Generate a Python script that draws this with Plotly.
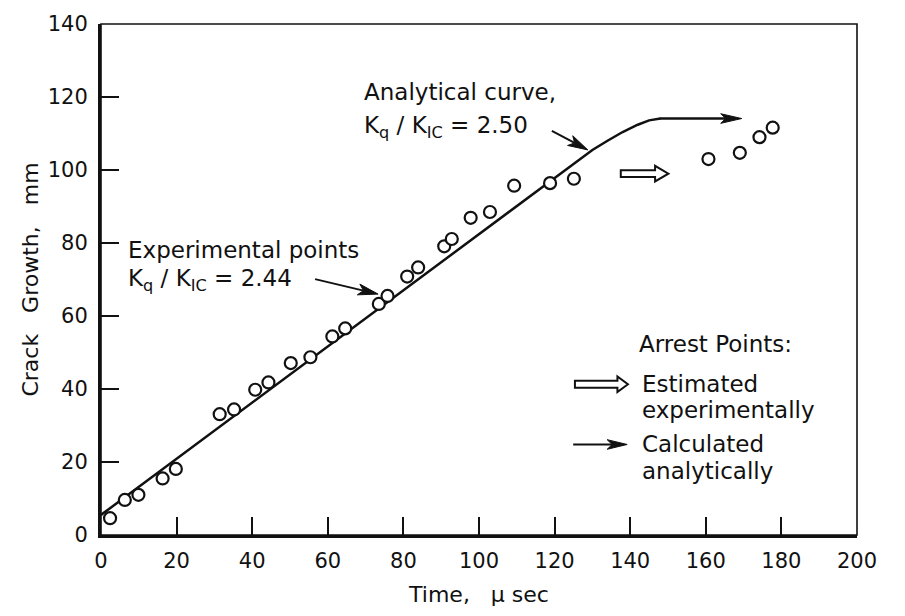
import math
import plotly.graph_objects as go

# ---- data ----
exp_time = [2.4, 6.3, 9.9, 16.3, 19.8, 31.4, 35.2, 40.8, 44.3, 50.2, 55.4, 61.2, 64.6,
            73.5, 75.8, 81.0, 83.9, 90.8, 92.8, 97.8, 102.9, 109.3, 118.8, 125.1,
            160.7, 169.0, 174.2, 177.7]
exp_growth = [4.6, 9.6, 11.0, 15.5, 18.1, 33.1, 34.4, 39.8, 41.8, 47.1, 48.7, 54.4, 56.6,
              63.3, 65.5, 70.8, 73.3, 79.1, 81.1, 86.9, 88.5, 95.7, 96.4, 97.6,
              103.0, 104.7, 109.0, 111.6]

curve_time = [0, 20, 40, 60, 80, 100, 120, 126, 130, 134, 138, 142, 145, 148]
curve_growth = [5.5, 20.9, 36.3, 51.7, 67.1, 82.5, 97.9, 102.5, 105.5, 108.0, 110.4,
                112.4, 113.6, 114.1]

x_ticks = [0, 20, 40, 60, 80, 100, 120, 140, 160, 180, 200]
y_ticks = [0, 20, 40, 60, 80, 100, 120, 140]

FONT = "DejaVu Sans"
BLACK = "#111111"

fig = go.Figure()

fig.add_trace(go.Scatter(
    x=curve_time, y=curve_growth, mode="lines",
    line=dict(color=BLACK, width=2.5), showlegend=False, hoverinfo="skip"))

fig.add_trace(go.Scatter(
    x=exp_time, y=exp_growth, mode="markers",
    marker=dict(symbol="circle", size=12, color="white",
                line=dict(color=BLACK, width=2.2)),
    showlegend=False, cliponaxis=False))

annotations = []


def text_ann(x, y, text, size=23):
    annotations.append(dict(x=x, y=y, xref="x", yref="y", text=text, showarrow=False,
                            xanchor="left", yanchor="middle", align="left",
                            font=dict(family=FONT, size=size, color=BLACK)))


kq = "K<sub>q</sub> / K<sub>IC</sub> = "
text_ann(69.0, 121.3, "Analytical curve,")
text_ann(69.0, 111.9, kq + "2.50")
text_ann(6.6, 78.0, "Experimental points")
text_ann(6.6, 70.0, kq + "2.44")
text_ann(141.8, 52.4, "Arrest Points:")
text_ann(142.6, 41.4, "Estimated")
text_ann(142.6, 34.2, "experimentally")
text_ann(142.6, 24.8, "Calculated")
text_ann(142.6, 17.4, "analytically")

shapes = []


def solid_arrow(tx, ty, dx, dy, width=2.0, L=20.0, w=5.5, notch=5.0):
    """Arrow whose tip is at data (tx, ty); tail at pixel offset (dx, dy), y up."""
    n = math.hypot(dx, dy)
    ux, uy = -dx / n, -dy / n          # direction tail -> tip
    px, py = -uy, ux                    # perpendicular
    bx, by = -L * ux, -L * uy
    nx, ny = -(L - notch) * ux, -(L - notch) * uy
    shaft = f"M {dx:.2f},{dy:.2f} L {nx:.2f},{ny:.2f}"
    head = (f"M 0,0 L {bx + w * px:.2f},{by + w * py:.2f} L {nx:.2f},{ny:.2f} "
            f"L {bx - w * px:.2f},{by - w * py:.2f} Z")
    shapes.append(dict(type="path", path=shaft, xref="x", yref="y",
                       xsizemode="pixel", ysizemode="pixel", xanchor=tx, yanchor=ty,
                       line=dict(color=BLACK, width=width)))
    shapes.append(dict(type="path", path=head, xref="x", yref="y",
                       xsizemode="pixel", ysizemode="pixel", xanchor=tx, yanchor=ty,
                       line=dict(color=BLACK, width=1), fillcolor=BLACK))


def hollow_arrow(tx, ty, tail, body_end, hb=3.4, hh=7.8):
    path = (f"M {tail},{-hb} L {body_end},{-hb} L {body_end},{-hh} L 0,0 "
            f"L {body_end},{hh} L {body_end},{hb} L {tail},{hb} Z")
    shapes.append(dict(type="path", path=path, xref="x", yref="y",
                       xsizemode="pixel", ysizemode="pixel", xanchor=tx, yanchor=ty,
                       line=dict(color=BLACK, width=2), fillcolor="white"))


solid_arrow(73.3, 66.0, -63, 15)
solid_arrow(128.8, 105.5, -36, 19)
solid_arrow(169.5, 114.1, -82, 0, width=2.5, L=21, w=4.8)
solid_arrow(139.2, 24.8, -54, 0, L=20, w=4.8)

hollow_arrow(150.1, 99.0, -47.6, -13.3)
hollow_arrow(139.4, 41.3, -53, -10.5)

shapes.append(dict(type="rect", xref="paper", yref="paper", x0=0, x1=1, y0=0, y1=1,
                   line=dict(color=BLACK, width=1.6), layer="above"))

fig.update_layout(
    width=905, height=616,
    margin=dict(l=101, r=48, t=14, b=78),
    paper_bgcolor="white", plot_bgcolor="white",
    font=dict(family=FONT, size=21, color=BLACK),
    annotations=annotations, shapes=shapes,
    xaxis=dict(range=[0, 200], tickvals=x_ticks, ticks="inside", ticklen=18,
               tickwidth=2, tickcolor=BLACK, showline=True, linewidth=3,
               linecolor=BLACK, showgrid=False, zeroline=False,
               ticklabelstandoff=5,
               tickfont=dict(family=FONT, size=21, color=BLACK),
               title=dict(text="Time,\u00a0\u00a0 \u03bc sec", standoff=15,
                          font=dict(family=FONT, size=22, color=BLACK))),
    yaxis=dict(range=[0, 140], tickvals=y_ticks, ticks="inside", ticklen=18,
               tickwidth=2, tickcolor=BLACK, showline=True, linewidth=3,
               linecolor=BLACK, showgrid=False, zeroline=False,
               ticklabelstandoff=6,
               tickfont=dict(family=FONT, size=21, color=BLACK),
               title=dict(text="Crack\u00a0\u00a0 Growth,\u00a0\u00a0 mm", standoff=4,
                          font=dict(family=FONT, size=22, color=BLACK))),
)

fig.write_html("out.html")
